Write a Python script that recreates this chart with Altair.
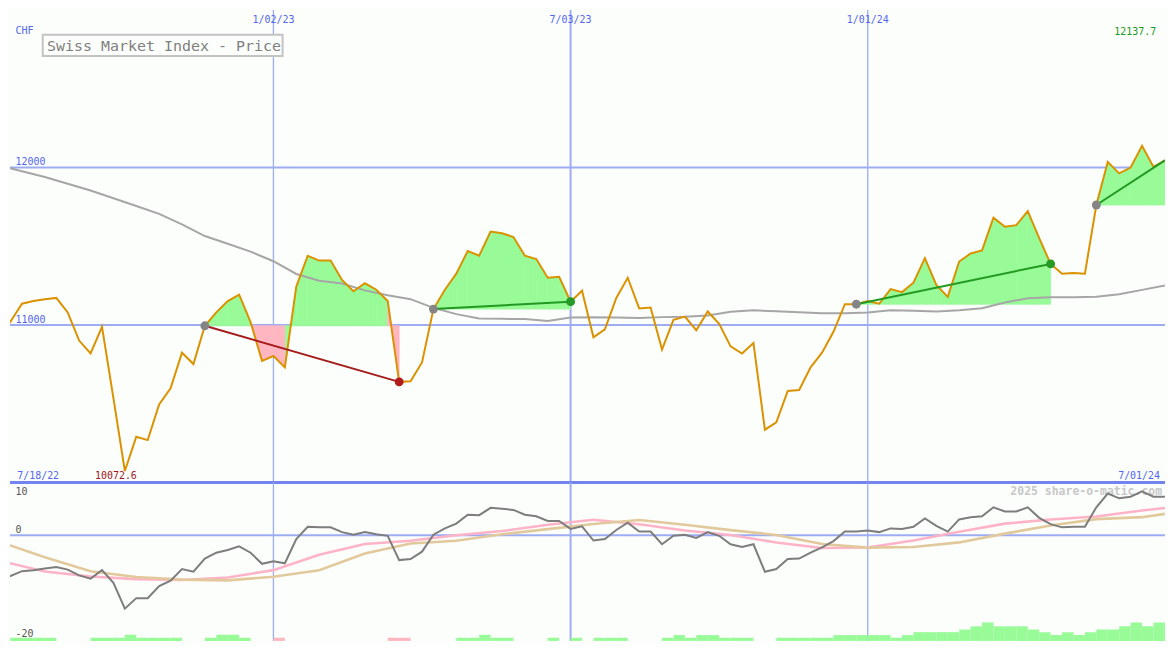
import altair as alt
import pandas as pd

# ---------------- data ----------------
week_start = "2022-07-18"
n_weeks = 103
dates = pd.date_range(week_start, periods=n_weeks, freq="7D")
date_str = dates.strftime("%Y-%m-%d").tolist()
date_next = (dates + pd.Timedelta(days=7)).strftime("%Y-%m-%d").tolist()

price = [10920, 11022, 11135, 11152, 11164, 11172, 11080, 10901, 10819, 10988,
         10536, 10072.6, 10290, 10269, 10495, 10598, 10824, 10752, 10995, 11080,
         11152, 11193, 11018, 10772, 10803, 10731, 11244, 11440, 11409, 11409,
         11286, 11214, 11265, 11224, 11152, 10639, 10643, 10762, 11101, 11224,
         11326, 11470, 11440, 11594, 11583, 11559, 11440, 11419, 11300, 11306,
         11148, 11218, 10922, 10972, 11172, 11300, 11105, 11111, 10844, 11033,
         11053, 10967, 11086, 11008, 10864, 10819, 10885, 10335, 10382, 10581,
         10587, 10731, 10824, 10957, 11132, 11132, 11152, 11135, 11228, 11209,
         11269, 11425, 11255, 11179, 11403, 11454, 11474, 11682, 11624, 11634,
         11723, 11552, 11388, 11326, 11331, 11326, 11762, 12035, 11963, 12000,
         12137.7, 12004, 12045]

ma_weeks = list(range(0, 103, 2))
ma = [12014, 11977, 11940, 11897, 11854, 11805, 11756, 11706, 11639, 11565,
      11516, 11466, 11405, 11324, 11281, 11263, 11220, 11189, 11164, 11109,
      11069, 11041, 11039, 11038, 11026, 11047, 11050, 11047, 11045, 11050,
      11053, 11060, 11084, 11093, 11087, 11081, 11074, 11074, 11080, 11093,
      11090, 11086, 11094, 11106, 11143, 11170, 11177, 11177, 11180, 11195,
      11223, 11251]

osc = [-8.0, -7.7, -6.8, -6.6, -6.3, -6.0, -6.5, -7.6, -8.2, -6.6,
       -9.0, -13.9, -11.9, -11.9, -9.6, -8.6, -6.4, -6.9, -4.4, -3.3,
       -2.8, -2.1, -3.3, -5.4, -4.9, -5.3, -0.7, 1.6, 1.5, 1.5,
       0.6, 0.1, 0.6, 0.2, -0.1, -4.7, -4.5, -3.1, 0.1, 1.3,
       2.2, 3.9, 3.8, 5.2, 5.0, 4.8, 3.9, 3.6, 2.7, 2.7,
       1.2, 1.7, -1.0, -0.7, 1.0, 2.4, 0.7, 0.7, -1.7, -0.1,
       0.1, -0.5, 0.6, -0.1, -1.7, -2.2, -1.7, -6.9, -6.4, -4.5,
       -4.4, -3.3, -2.3, -1.1, 0.7, 0.7, 0.9, 0.6, 1.3, 1.2,
       1.6, 3.2, 1.8, 0.7, 3.0, 3.4, 3.6, 5.3, 4.5, 4.5,
       5.3, 3.3, 2.1, 1.5, 1.6, 1.6, 5.3, 7.9, 7.0, 7.3,
       8.3, 7.3, 7.3]

smooth_weeks = list(range(0, 101, 4)) + [102]
osc_pink = [-4.8, -6.87, -7.8, -8.3, -8.47, -8.0, -6.6, -3.68, -1.66, -1.04,
            0.0, 0.8, 2.0, 2.94, 2.08, 0.9, 0.06, -1.36, -2.42, -2.3,
            -0.98, 0.67, 2.2, 2.98, 3.56, 4.7, 5.15]
osc_tan = [-1.2, -4.17, -6.8, -7.9, -8.4, -8.53, -7.85, -6.63, -3.45, -1.57,
           -1.04, 0.18, 1.17, 2.15, 2.9, 2.0, 0.98, 0.06, -1.66, -2.33,
           -2.21, -1.35, 0.31, 1.84, 3.06, 3.43, 4.05]

# weekly histogram at the foot of the lower panel (negative = pink)
bars = [0.6, 0.6, 0.6, 0.6, 0.6, 0, 0, 0, 0.6, 0.6,
        0.6, 1.15, 0.6, 0.6, 0.6, 0.6, 0, 0, 0.6, 1.15,
        1.15, 0.6, 0, 0, -0.6, 0, 0, 0, 0, 0,
        0, 0, 0, 0, -0.6, -0.6, 0, 0, 0, 0,
        0.6, 0.6, 1.15, 0.6, 0.6, 0, 0, 0, 0.6, 0,
        0.6, 0, 0.6, 0.6, 0.6, 0, 0, 0, 0.6, 1.1,
        0.6, 1.1, 1.1, 0.6, 0.6, 0.6, 0, 0, 0.6, 0.6,
        0.6, 0.6, 0.6, 1.1, 1.1, 1.1, 1.1, 1.1, 0.6, 1.1,
        1.66, 1.66, 1.66, 1.66, 2.15, 2.76, 3.5, 2.76, 2.76, 2.76,
        2.15, 1.66, 1.1, 1.66, 1.1, 1.66, 2.15, 2.15, 2.76, 3.5,
        2.76, 3.5, 3.5]

trend_segments = [(18, 35), (38, 50), (75, 92), (96, 102)]

grid_dates = ["2023-01-02", "2023-07-03", "2024-01-01"]
grid_labels = ["1/02/23", "7/03/23", "1/01/24"]
grid_widths = [1.3, 2, 1.3]
price_grid = [11000, 12000]
osc_ticks = ["10", "0", "-20"]
title = "Swiss Market Index - Price"
currency = "CHF"
start_label = "7/18/22"
end_label = "7/01/24"
watermark = "2025 share-o-matic.com"

# ---------------- style ----------------
W, H_TOP, H_BOT = 1159, 474, 159
SX = W / 1175
SYT = H_TOP / 487
SYB = H_BOT / 163
BG = "#fcfefc"
GRID = "#9dacf3"
SEP = "#7384f0"
BLUE_TXT = "#5366ee"
ORANGE = "#da9200"
MA_GRAY = "#a6a6a6"
FILL_G = "#98fb98"
FILL_P = "#ffb6c1"
UP = "#229a22"
DOWN = "#a51c1c"
MONO = "DejaVu Sans Mono"

xs = alt.Scale(domain=[alt.DateTime(year=2022, month=7, date=24, hours=15, minutes=36, utc=True),
                       alt.DateTime(year=2024, month=7, date=1, hours=1, minutes=26, utc=True)],
               nice=False)
ys_top = alt.Scale(domain=[10000, 13000], nice=False, zero=False)
ys_bot = alt.Scale(domain=[-20, 10], nice=False, zero=False)


def X(f):
    return alt.X(f, scale=xs, axis=None, title=None)


def YT(f):
    return alt.Y(f, scale=ys_top, axis=None, title=None)


def YB(f):
    return alt.Y(f, scale=ys_bot, axis=None, title=None)


# ---------------- top panel ----------------
price_df = pd.DataFrame({"d": date_str, "p": price})
ma_df = pd.DataFrame({"d": [date_str[k] for k in ma_weeks], "p": ma})
grid_df = pd.DataFrame({"d": grid_dates, "w": grid_widths, "t": grid_labels})

fill_rows, trend_rows, mark_rows = [], [], []
last = n_weeks - 1
for si, (s, e) in enumerate(trend_segments):
    base = price[s]
    for k in range(s, e):
        c = "up" if price[k + 1] >= base else "down"
        for j in (k, k + 1):
            fill_rows.append({"piece": f"{si}-{k}", "d": date_str[j], "p": price[j], "b": base, "c": c})
    direction = "up" if price[e] >= base else "down"
    for j in (s, e):
        trend_rows.append({"seg": si, "d": date_str[j], "p": price[j], "c": direction})
    mark_rows.append({"d": date_str[s], "p": price[s], "c": "start"})
    if e < last:
        mark_rows.append({"d": date_str[e], "p": price[e], "c": direction})

fill_df = pd.DataFrame(fill_rows)
trend_df = pd.DataFrame(trend_rows)
mark_df = pd.DataFrame(mark_rows)

grid_h = alt.Chart(pd.DataFrame({"v": price_grid})).mark_rule(color=GRID, strokeWidth=2).encode(y=YT("v:Q"))
grid_v = alt.Chart(grid_df).mark_rule(color=GRID).encode(
    x=X("d:T"), strokeWidth=alt.StrokeWidth("w:Q", scale=None, legend=None))
sep = alt.Chart(pd.DataFrame({"v": [10000]})).mark_rule(color=SEP, strokeWidth=3).encode(y=YT("v:Q"))


def fill_layer(kind, col):
    return alt.Chart(fill_df[fill_df.c == kind]).mark_area(
        clip=True, color=col, stroke=col, strokeWidth=0.8).encode(
        x=X("d:T"), y=YT("p:Q"), y2="b:Q", detail="piece:N")


def trend_layer(kind, col):
    return alt.Chart(trend_df[trend_df.c == kind]).mark_line(strokeWidth=2, clip=True, color=col).encode(
        x=X("d:T"), y=YT("p:Q"), detail="seg:N")


def mark_layer(kind, col):
    return alt.Chart(mark_df[mark_df.c == kind]).mark_circle(size=80, opacity=1, clip=True, color=col).encode(
        x=X("d:T"), y=YT("p:Q"))


ma_line = alt.Chart(ma_df).mark_line(color=MA_GRAY, strokeWidth=2, clip=True).encode(x=X("d:T"), y=YT("p:Q"))
price_line = alt.Chart(price_df).mark_line(color=ORANGE, strokeWidth=2, clip=True).encode(x=X("d:T"), y=YT("p:Q"))

date_labels = alt.Chart(grid_df).mark_text(font=MONO, fontSize=10, color=BLUE_TXT, align="center",
                                           baseline="alphabetic").encode(
    x=X("d:T"), y=alt.value(13 * SYT), text="t:N")

price_labels = alt.Chart(pd.DataFrame({"v": price_grid})).mark_text(
    font=MONO, fontSize=10, color=BLUE_TXT, align="left", baseline="alphabetic", dy=-2.5).encode(
    x=alt.value(5.7 * SX), y=YT("v:Q"), text=alt.Text("v:Q", format="d"))

chf = alt.Chart(pd.DataFrame({"t": [currency]})).mark_text(
    font=MONO, fontSize=10, color=BLUE_TXT, align="left", baseline="alphabetic").encode(
    x=alt.value(5.7 * SX), y=alt.value(25 * SYT), text="t:N")

start_txt = alt.Chart(pd.DataFrame({"t": [start_label]})).mark_text(
    font=MONO, fontSize=10, color=BLUE_TXT, align="left", baseline="alphabetic").encode(
    x=alt.value(7.3 * SX), y=alt.value(483 * SYT), text="t:N")

end_txt = alt.Chart(pd.DataFrame({"t": [end_label]})).mark_text(
    font=MONO, fontSize=10, color=BLUE_TXT, align="right", baseline="alphabetic").encode(
    x=alt.value(1170 * SX), y=alt.value(483 * SYT), text="t:N")

imax = max(range(n_weeks), key=lambda i: price[i])
imin = min(range(n_weeks), key=lambda i: price[i])
max_txt = alt.Chart(pd.DataFrame({"v": [price[imax]]})).mark_text(
    font=MONO, fontSize=10, color="#219a21", align="right", baseline="alphabetic").encode(
    x=alt.value(1166 * SX), y=alt.value(25.5 * SYT), text=alt.Text("v:Q", format=".1f"))
min_txt = alt.Chart(pd.DataFrame({"d": [date_str[imin]], "v": [price[imin]]})).mark_text(
    font=MONO, fontSize=10, color="#a01818", align="center", baseline="alphabetic", dx=-9).encode(
    x=X("d:T"), y=alt.value(483 * SYT), text=alt.Text("v:Q", format=".1f"))

title_box = alt.Chart(pd.DataFrame({"t": [title]})).mark_rect(
    fill=BG, stroke="#c3c3c3", strokeWidth=2).encode(
    x=alt.value(33.3 * SX), x2=alt.value(277.3 * SX), y=alt.value(25.3 * SYT), y2=alt.value(47.3 * SYT))
title_txt = alt.Chart(pd.DataFrame({"t": [title]})).mark_text(
    font=MONO, fontSize=15, color="#7f7f7f", align="left", baseline="alphabetic").encode(
    x=alt.value(37.7 * SX), y=alt.value(41.7 * SYT), text="t:N")

top = alt.layer(
    grid_h, grid_v, fill_layer("up", FILL_G), fill_layer("down", FILL_P), sep,
    ma_line, price_line, trend_layer("up", UP), trend_layer("down", DOWN),
    mark_layer("start", "#858585"), mark_layer("up", "#259a25"), mark_layer("down", "#b01c1c"),
    date_labels, price_labels, chf, start_txt, end_txt, max_txt, min_txt, title_box, title_txt
).properties(width=W, height=H_TOP)

# ---------------- bottom panel ----------------
bar_df = pd.DataFrame([{"d": date_str[k], "d2": date_next[k], "b0": -20, "b1": -20 + abs(h),
                        "c": "up" if h > 0 else "down"} for k, h in enumerate(bars) if h != 0])
smooth_df = pd.DataFrame({"d": [date_str[k] for k in smooth_weeks], "pink": osc_pink, "tan": osc_tan})
osc_df = pd.DataFrame({"d": date_str, "v": osc})

wm = alt.Chart(pd.DataFrame({"t": [watermark]})).mark_text(
    font=MONO, fontSize=11.5, fontWeight="bold", color="#c8c8c8", align="right", baseline="alphabetic").encode(
    x=alt.value(1172 * SX), y=alt.value(13 * SYB), text="t:N")
grid_vb = alt.Chart(grid_df).mark_rule(color=GRID).encode(
    x=X("d:T"), strokeWidth=alt.StrokeWidth("w:Q", scale=None, legend=None))
zero = alt.Chart(pd.DataFrame({"v": [0]})).mark_rule(color=GRID, strokeWidth=2).encode(y=YB("v:Q"))


def bar_layer(kind, col):
    return alt.Chart(bar_df[bar_df.c == kind]).mark_rect(clip=True, color=col).encode(
        x=X("d:T"), x2="d2:T", y=YB("b0:Q"), y2="b1:Q")


pink_line = alt.Chart(smooth_df).mark_line(color="#ffb3c6", strokeWidth=2.6, clip=True).encode(
    x=X("d:T"), y=YB("pink:Q"))
tan_line = alt.Chart(smooth_df).mark_line(color="#e2c99c", strokeWidth=2.6, clip=True).encode(
    x=X("d:T"), y=YB("tan:Q"))
osc_line = alt.Chart(osc_df).mark_line(color="#7d7d7d", strokeWidth=2, clip=True).encode(
    x=X("d:T"), y=YB("v:Q"))

tick_pos = [13 * SYB, 51.5 * SYB, 158.7 * SYB]
tick_layers = [
    alt.Chart(pd.DataFrame({"t": [t]})).mark_text(
        font=MONO, fontSize=10, color="#555555", align="left", baseline="alphabetic").encode(
        x=alt.value(5.7 * SX), y=alt.value(p), text="t:N")
    for t, p in zip(osc_ticks, tick_pos)
]

bottom = alt.layer(
    wm, grid_vb, zero, bar_layer("up", FILL_G), bar_layer("down", FILL_P),
    pink_line, tan_line, osc_line, *tick_layers
).properties(width=W, height=H_BOT)

chart = alt.vconcat(top, bottom, spacing=0, bounds="flush").properties(
    background=BG, padding=0
).configure_view(stroke=None)

chart.save("out.html", embed_options={"renderer": "svg", "actions": False})
